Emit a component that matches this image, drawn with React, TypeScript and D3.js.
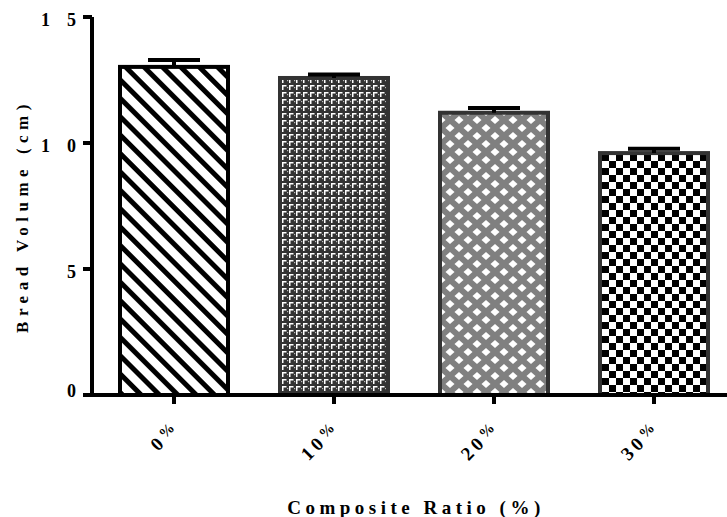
import React from "react";
import * as d3 from "d3";

const categories = ["0%", "10%", "20%", "30%"];
const means = [13.02, 12.58, 11.2, 9.6];
const errors = [0.27, 0.14, 0.19, 0.17];
const yTicks = [0, 5, 10, 15];
const patterns = ["p0", "p1", "p2", "p3"];
const strokes = ["#000", "#333", "#333", "#333"];

const font = "Liberation Serif";

export default function App() {
  const width = 727;
  const height = 517;

  const y = d3.scaleLinear().domain([0, 15]).range([395, 17]);
  const x = d3
    .scaleBand()
    .domain(categories)
    .range([94, 734])
    .paddingInner(0.3)
    .paddingOuter(0.15);

  const bw = x.bandwidth();
  const capW = 52;

  return (
    <svg
      width={width}
      height={height}
      style={{ position: "absolute", left: 0, top: 0, background: "#fff" }}
    >
      <defs>
        <pattern
          id="p0"
          patternUnits="userSpaceOnUse"
          width={13}
          height={13}
          patternTransform="rotate(-45)"
        >
          <rect width={13} height={13} fill="#fff" />
          <rect width={5} height={13} fill="#000" />
        </pattern>
        <pattern id="p1" patternUnits="userSpaceOnUse" width={7} height={7}>
          <rect width={7} height={7} fill="#333" />
          <path d="M2 1h4.5v1.5h-3v3.5h-1.5z" fill="#fff" />
          <rect x={0} y={3} width={1.2} height={1.2} fill="#bbb" />
        </pattern>
        <pattern id="p2" patternUnits="userSpaceOnUse" width={18} height={16}>
          <rect width={18} height={16} fill="#808080" />
          <path
            d="M0 -4l4.5 4l-4.5 4l-4.5 -4z M18 -4l4.5 4l-4.5 4l-4.5 -4z M0 12l4.5 4l-4.5 4l-4.5 -4z M18 12l4.5 4l-4.5 4l-4.5 -4z M9 4l4.5 4l-4.5 4l-4.5 -4z"
            fill="#fff"
          />
        </pattern>
        <pattern id="p3" patternUnits="userSpaceOnUse" width={14} height={14}>
          <rect width={14} height={14} fill="#fff" />
          <rect width={7} height={7} fill="#000" />
          <rect x={7} y={7} width={7} height={7} fill="#000" />
        </pattern>
      </defs>

      {/* bars */}
      {categories.map((c, i) => (
        <rect
          key={c}
          x={(x(c) as number) + 2}
          y={y(means[i])}
          width={bw - 4}
          height={y(0) - y(means[i])}
          fill={`url(#${patterns[i]})`}
          stroke={strokes[i]}
          strokeWidth={4}
        />
      ))}

      {/* error bars */}
      {categories.map((c, i) => {
        const cx = (x(c) as number) + bw / 2;
        return (
          <g key={"e" + c} stroke="#000" strokeWidth={4}>
            <line x1={cx} x2={cx} y1={y(means[i])} y2={y(means[i] + errors[i])} />
            <line
              x1={cx - capW / 2}
              x2={cx + capW / 2}
              y1={y(means[i] + errors[i])}
              y2={y(means[i] + errors[i])}
            />
          </g>
        );
      })}

      {/* y axis */}
      <line x1={92} x2={92} y1={y(15)} y2={y(0) + 2} stroke="#000" strokeWidth={4} />
      {yTicks.map((t) => (
        <g key={"y" + t}>
          <line x1={83} x2={92} y1={y(t)} y2={y(t)} stroke="#000" strokeWidth={4} />
          <text
            x={76}
            y={y(t) + (t === 0 ? 2 : 9)}
            textAnchor="end"
            fontFamily={font}
            fontWeight="bold"
            fontSize={18}
            letterSpacing={17}
            dx={17}
          >
            {t}
          </text>
        </g>
      ))}

      {/* x axis */}
      <line x1={90} x2={727} y1={y(0)} y2={y(0)} stroke="#000" strokeWidth={4} />
      {categories.map((c) => {
        const cx = (x(c) as number) + bw / 2;
        return (
          <g key={"x" + c}>
            <line x1={cx} x2={cx} y1={y(0)} y2={y(0) + 9} stroke="#000" strokeWidth={4} />
            <text
              transform={`translate(${cx + 7},${429}) rotate(-45)`}
              textAnchor="end"
              fontFamily={font}
              fontWeight="bold"
              fontSize={19}
              letterSpacing={4}
            >
              {c.replace("%", "")}
              <tspan fontSize={15} dy={-4}>
                %
              </tspan>
            </text>
          </g>
        );
      })}

      {/* axis titles */}
      <text
        transform={`translate(28,${(y(0) + y(15)) / 2 + 10}) rotate(-90)`}
        textAnchor="middle"
        fontFamily={font}
        fontWeight="bold"
        fontSize={17}
        letterSpacing={5.5}
      >
        Bread Volume (cm)
      </text>
      <text
        x={416}
        y={514}
        textAnchor="middle"
        fontFamily={font}
        fontWeight="bold"
        fontSize={19}
        letterSpacing={4.5}
      >
        Composite Ratio (%)
      </text>
    </svg>
  );
}
